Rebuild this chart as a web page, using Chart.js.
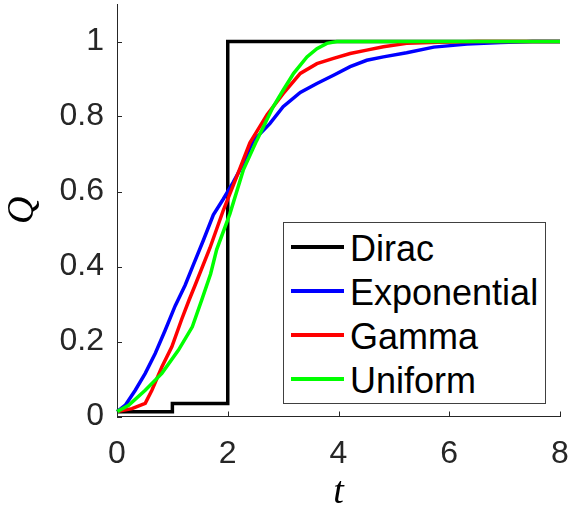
<!DOCTYPE html>
<html>
<head>
<meta charset="utf-8">
<script src="https://cdn.jsdelivr.net/npm/chart.js@4.4.1/dist/chart.umd.min.js"></script>
<style>
  body { margin: 0; background: #fff; }
  #wrap { position: relative; width: 570px; height: 512px; }
  #legend {
    position: absolute; left: 283px; top: 222px; width: 263px; height: 182px;
    box-sizing: border-box; border: 1px solid #404040; background: #fff;
    padding-top: 2px; font-family: "Liberation Sans", Arial, sans-serif; font-size: 36px; color: #000;
  }
  #legend .row { display: flex; align-items: center; height: 44px; }
  #legend .swatch { width: 53px; height: 3.5px; margin-left: 7px; }
  #legend .txt { margin-left: 6px; position: relative; top: 2px; }
</style>
</head>
<body>
<div id="wrap">
  <canvas id="chart" width="570" height="512"></canvas>
  <div id="legend"></div>
</div>
<script>
// series
const seriesNames = ["Dirac", "Exponential", "Gamma", "Uniform"];
const seriesColors = ["#000000", "#0000ff", "#ff0000", "#00ff00"];

const tDirac = [0, 1, 2, 8];
const qDirac = [0.013, 0.035, 1, 1];

const tExp = [0, 0.15, 0.33, 0.51, 0.69, 0.87, 1.05, 1.23, 1.38, 1.56, 1.74, 1.92, 2.1, 2.25, 2.46, 2.76, 3.0, 3.31, 3.61, 3.91, 4.21, 4.51, 4.81, 5.23, 5.72, 6.32, 6.93, 7.5, 8];
const qExp = [0.013, 0.03, 0.07, 0.115, 0.168, 0.23, 0.295, 0.35, 0.405, 0.47, 0.538, 0.58, 0.625, 0.666, 0.735, 0.781, 0.826, 0.864, 0.888, 0.91, 0.933, 0.95, 0.959, 0.97, 0.985, 0.993, 0.997, 1.0, 1.0];

const tGamma = [0, 0.27, 0.51, 0.63, 0.81, 0.99, 1.17, 1.30, 1.41, 1.68, 1.92, 2.16, 2.40, 2.71, 3.0, 3.31, 3.61, 3.91, 4.21, 4.51, 4.81, 5.23, 5.8, 6.5, 8];
const qGamma = [0.013, 0.021, 0.035, 0.07, 0.132, 0.186, 0.26, 0.31, 0.35, 0.45, 0.55, 0.639, 0.73, 0.805, 0.861, 0.915, 0.941, 0.955, 0.968, 0.977, 0.986, 0.995, 0.998, 1.0, 1.0];

const tUnif = [0, 0.21, 0.51, 0.81, 1.11, 1.36, 1.54, 1.69, 1.80, 2.04, 2.28, 2.52, 2.82, 3.0, 3.19, 3.43, 3.61, 3.79, 3.97, 8];
const qUnif = [0.013, 0.03, 0.07, 0.115, 0.177, 0.239, 0.315, 0.38, 0.445, 0.541, 0.657, 0.735, 0.826, 0.87, 0.915, 0.959, 0.981, 0.995, 1.0, 1.0];

const xTicks = [0, 2, 4, 6, 8];
const yTicks = [0, 0.2, 0.4, 0.6, 0.8, 1];

const axisColor = "#262626";

function pts(ts, qs) {
  return ts.map((t, i) => ({ x: t, y: qs[i] }));
}

// MATLAB-style ticks pointing into the plot
const innerTicks = {
  id: "innerTicks",
  afterDraw(chart) {
    const { ctx, chartArea } = chart;
    const xs = chart.scales.x, ys = chart.scales.y;
    ctx.save();
    ctx.strokeStyle = axisColor;
    ctx.lineWidth = 1;
    ctx.beginPath();
    xs.ticks.forEach(t => {
      const px = Math.round(xs.getPixelForValue(t.value)) + 0.5;
      ctx.moveTo(px, chartArea.bottom);
      ctx.lineTo(px, chartArea.bottom - 5);
    });
    ys.ticks.forEach(t => {
      const py = Math.round(ys.getPixelForValue(t.value)) + 0.5;
      ctx.moveTo(chartArea.left, py);
      ctx.lineTo(chartArea.left + 5, py);
    });
    ctx.stroke();
    ctx.restore();
  }
};

const tickFont = { family: "'Liberation Sans', Arial, sans-serif", size: 32 };
const titleFont = { family: "'Liberation Serif', 'Times New Roman', serif", style: "italic", size: 38, lineHeight: 1 };

const datasets = [
  { data: pts(tDirac, qDirac), stepped: true, order: 3 },
  { data: pts(tExp, qExp), order: 2 },
  { data: pts(tGamma, qGamma), order: 1 },
  { data: pts(tUnif, qUnif), order: 0 }
].map((d, i) => Object.assign({
  label: seriesNames[i],
  borderColor: seriesColors[i],
  backgroundColor: seriesColors[i],
  borderWidth: 3.5,
  pointRadius: 0,
  tension: 0,
  fill: false,
  clip: 4
}, d));

const chart = new Chart(document.getElementById("chart"), {
  type: "line",
  data: { datasets },
  options: {
    responsive: false,
    animation: false,
    layout: { padding: { top: 4, right: 10, left: 0, bottom: 0 } },
    plugins: { legend: { display: false }, tooltip: { enabled: false } },
    scales: {
      x: {
        type: "linear",
        min: 0, max: 8,
        afterBuildTicks: s => { s.ticks = xTicks.map(v => ({ value: v })); },
        afterFit: s => { s.height = 95.5; s.paddingLeft = 0; s.paddingRight = 0; },
        grid: { display: true, drawOnChartArea: false, drawTicks: false },
        border: { display: true, color: axisColor, width: 1 },
        ticks: { font: tickFont, color: axisColor, padding: 18, maxRotation: 0, callback: v => String(v) },
        title: { display: true, text: "t", font: titleFont, color: "#000", padding: { top: 0, bottom: 0 } }
      },
      y: {
        type: "linear",
        min: 0, max: 1.1,
        afterBuildTicks: s => { s.ticks = yTicks.map(v => ({ value: v })); },
        afterFit: s => { s.width = 117; s.paddingTop = 0; s.paddingBottom = 0; },
        grid: { display: true, drawOnChartArea: false, drawTicks: false },
        border: { display: true, color: axisColor, width: 1 },
        ticks: { font: tickFont, color: axisColor, padding: 13, callback: v => String(v) },
        title: { display: true, text: "Q", font: titleFont, color: "#000", padding: { top: 4, bottom: 0 } }
      }
    }
  },
  plugins: [innerTicks]
});

// legend box inside the axes, built from the datasets
document.getElementById("legend").innerHTML = seriesNames.map((name, i) => `
  <div class="row">
    <span class="swatch" style="background:${seriesColors[i]}"></span>
    <span class="txt">${name}</span>
  </div>`).join("");
</script>
</body>
</html>
